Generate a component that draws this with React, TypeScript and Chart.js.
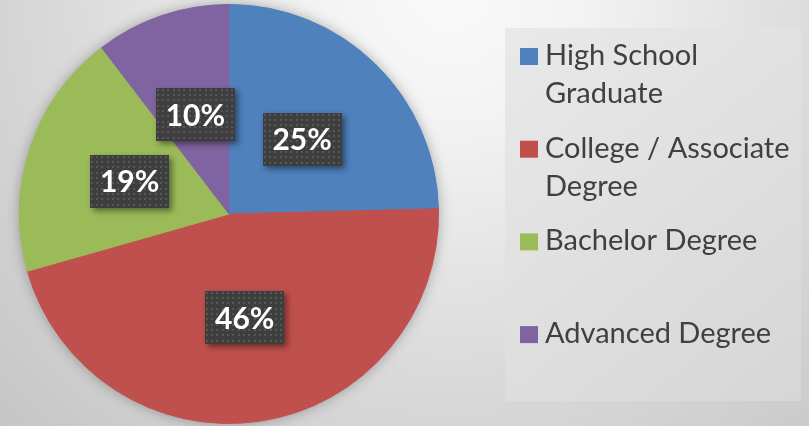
import React, { useEffect, useRef } from "react";
import { Chart, registerables } from "chart.js";
Chart.register(...registerables);

const categories = ["High School Graduate", "College / Associate Degree", "Bachelor Degree", "Advanced Degree"];
const shares = [24.6, 46.0, 19.0, 10.4];
const colors = ["#4F81BD", "#C0504D", "#9BBB59", "#8064A2"];

const LEGEND_FONT = "29px Lato";
const LABEL_FONT = "bold 30px Lato";

function makePattern(ctx: CanvasRenderingContext2D) {
  const c = document.createElement("canvas");
  c.width = 16;
  c.height = 16;
  const p = c.getContext("2d")!;
  p.fillStyle = "#3e3e3e";
  p.fillRect(0, 0, 16, 16);
  p.fillStyle = "#575757";
  [1, 6, 11].forEach((x) => [1, 6, 11].forEach((y) => p.fillRect(x, y, 2, 2)));
  return ctx.createPattern(c, "repeat");
}

function wrap(ctx: CanvasRenderingContext2D, text: string, maxW: number) {
  const words = text.split(" ");
  const lines: string[] = [];
  let cur = "";
  for (const w of words) {
    const t = cur ? cur + " " + w : w;
    if (cur && ctx.measureText(t).width > maxW) {
      lines.push(cur);
      cur = w;
    } else cur = t;
  }
  if (cur) lines.push(cur);
  return lines;
}

export default function App() {
  const ref = useRef<HTMLCanvasElement>(null);
  useEffect(() => {
    document.body.style.margin = "0";
    const canvas = ref.current!;
    const plugin = {
      id: "decor",
      beforeDraw(chart: any) {
        const { ctx, width, height } = chart;
        ctx.save();
        const g = ctx.createRadialGradient(450, -10, 0, 450, -10, 640);
        g.addColorStop(0, "#fafafa");
        g.addColorStop(0.2, "#f3f3f3");
        g.addColorStop(0.6, "#dadada");
        g.addColorStop(1, "#c4c4c4");
        ctx.fillStyle = g;
        ctx.fillRect(0, 0, width, height);
        const lg = ctx.createLinearGradient(505, 28, 801, 401);
        lg.addColorStop(0, "#e9e9e9");
        lg.addColorStop(1, "#d6d6d6");
        ctx.fillStyle = lg;
        ctx.fillRect(505, 28, 296, 373);
        ctx.restore();
      },
      beforeDatasetsDraw(chart: any) {
        const arc = chart.getDatasetMeta(0).data[0];
        if (!arc) return;
        const { x, y, outerRadius } = arc.getProps(["x", "y", "outerRadius"], true);
        const ctx = chart.ctx;
        ctx.save();
        ctx.shadowColor = "rgba(0,0,0,0.35)";
        ctx.shadowBlur = 14;
        ctx.beginPath();
        ctx.arc(x, y, outerRadius - 1, 0, Math.PI * 2);
        ctx.fillStyle = "#999";
        ctx.fill();
        ctx.restore();
      },
      afterDatasetsDraw(chart: any) {
        const ctx = chart.ctx as CanvasRenderingContext2D;
        const vals = chart.data.datasets[0].data as number[];
        const total = vals.reduce((a, b) => a + b, 0);
        const pattern = makePattern(ctx);
        chart.getDatasetMeta(0).data.forEach((arc: any, i: number) => {
          const pos = arc.tooltipPosition(true);
          const w = 79, h = 53;
          const bx = Math.round(pos.x - w / 2), by = Math.round(pos.y - h / 2);
          ctx.save();
          ctx.shadowColor = "rgba(0,0,0,0.45)";
          ctx.shadowBlur = 6;
          ctx.shadowOffsetX = 3;
          ctx.shadowOffsetY = 3;
          ctx.fillStyle = "#3e3e3e";
          ctx.fillRect(bx, by, w, h);
          ctx.restore();
          ctx.save();
          ctx.translate(bx, by);
          ctx.fillStyle = pattern as any;
          ctx.fillRect(0, 0, w, h);
          ctx.restore();
          ctx.save();
          ctx.fillStyle = "#ffffff";
          ctx.font = LABEL_FONT;
          ctx.textAlign = "center";
          ctx.textBaseline = "alphabetic";
          ctx.fillText(Math.round((vals[i] / total) * 100) + "%", pos.x, pos.y + 11);
          ctx.restore();
        });
      },
      afterDraw(chart: any) {
        const ctx = chart.ctx as CanvasRenderingContext2D;
        const labels = chart.data.labels as string[];
        const bg = chart.data.datasets[0].backgroundColor as string[];
        ctx.save();
        ctx.font = LEGEND_FONT;
        ctx.textBaseline = "alphabetic";
        ctx.textAlign = "left";
        labels.forEach((lab, i) => {
          const base = 65 + i * 92.7;
          ctx.fillStyle = bg[i];
          ctx.fillRect(520, base - 17, 18, 17);
          ctx.fillStyle = "#404040";
          wrap(ctx, lab, 250).forEach((line, j) => {
            ctx.fillText(line, 545, base + j * 38);
          });
        });
        ctx.restore();
      },
    };
    const chart = new Chart(canvas, {
      type: "pie",
      data: {
        labels: categories,
        datasets: [
          {
            data: shares,
            backgroundColor: colors,
            borderColor: colors,
            borderWidth: 1,
          },
        ],
      },
      options: {
        animation: false,
        responsive: true,
        maintainAspectRatio: false,
        layout: { padding: { left: 19, right: 370, top: 4, bottom: 2 } },
        plugins: { legend: { display: false }, tooltip: { enabled: false } },
      },
      plugins: [plugin],
    });
    if ((document as any).fonts) {
      Promise.all([
        (document as any).fonts.load(LEGEND_FONT),
        (document as any).fonts.load(LABEL_FONT),
      ]).then(() => chart.update()).catch(() => {});
    }
    return () => chart.destroy();
  }, []);
  return (
    <div style={{ width: 809, height: 426, position: "relative" }}>
      <canvas ref={ref} />
    </div>
  );
}
